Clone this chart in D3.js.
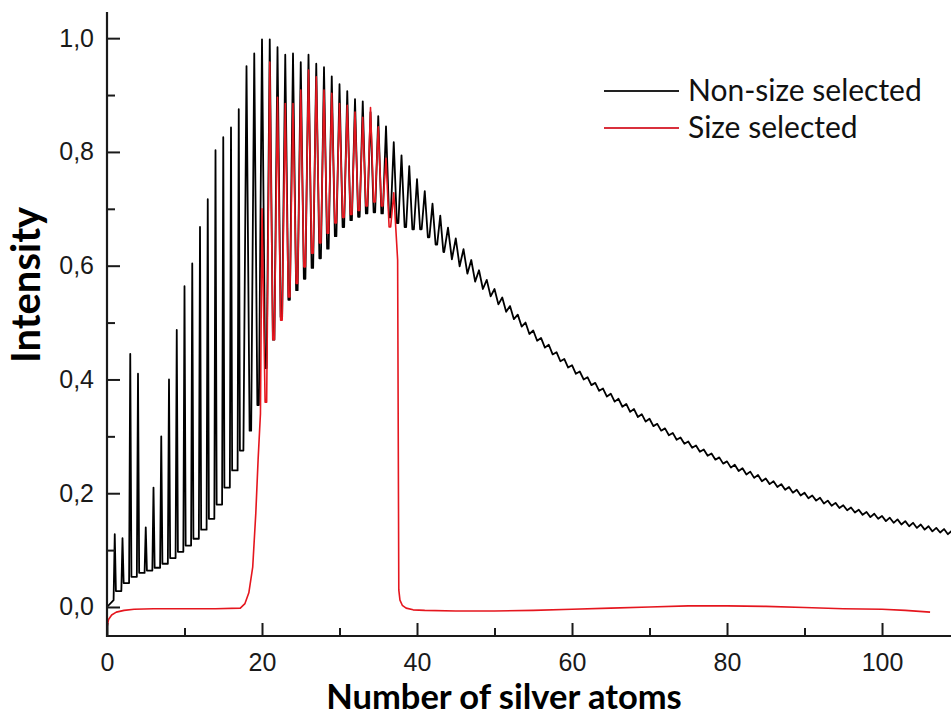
<!DOCTYPE html>
<html>
<head>
<meta charset="utf-8">
<script src="https://cdn.jsdelivr.net/npm/d3@7"></script>
<style>
  html, body { margin: 0; padding: 0; background: #fff; }
  svg { display: block; }
</style>
</head>
<body>
<svg id="chart" width="951" height="719"></svg>
<script>
// Mass spectra of silver clusters: intensity against number of atoms.

// Non-size selected beam: spike top at each atom count n = 1..109
const nonSizePeak = [
  0.128, 0.121, 0.445, 0.410, 0.140, 0.210, 0.300, 0.400, 0.487, 0.564,
  0.604, 0.668, 0.717, 0.803, 0.826, 0.843, 0.875, 0.951, 0.973, 0.998,
  0.998, 0.984, 0.971, 0.973, 0.958, 0.971, 0.955, 0.949, 0.933, 0.919,
  0.907, 0.893, 0.889, 0.870, 0.863, 0.845, 0.817, 0.794, 0.775, 0.752,
  0.731, 0.709, 0.688, 0.667, 0.648, 0.629, 0.610, 0.592, 0.575, 0.559,
  0.544, 0.529, 0.514, 0.500, 0.486, 0.473, 0.461, 0.448, 0.436, 0.425,
  0.414, 0.404, 0.394, 0.384, 0.375, 0.366, 0.357, 0.348, 0.339, 0.331,
  0.322, 0.314, 0.306, 0.298, 0.291, 0.284, 0.277, 0.270, 0.263, 0.256,
  0.250, 0.244, 0.238, 0.232, 0.226, 0.221, 0.216, 0.211, 0.206, 0.201,
  0.196, 0.192, 0.187, 0.183, 0.179, 0.175, 0.171, 0.167, 0.164, 0.160,
  0.157, 0.154, 0.151, 0.148, 0.145, 0.142, 0.139, 0.137, 0.134
];
// Non-size selected beam: trough level after each atom count n = 0..109
const nonSizeValley = [
  0.012, 0.028, 0.042, 0.053, 0.060, 0.064, 0.069, 0.076, 0.086, 0.097,
  0.108, 0.120, 0.136, 0.155, 0.180, 0.210, 0.240, 0.275, 0.310, 0.355,
  0.420, 0.470, 0.510, 0.540, 0.557, 0.577, 0.596, 0.613, 0.630, 0.652,
  0.668, 0.680, 0.686, 0.692, 0.694, 0.692, 0.685, 0.675, 0.668, 0.664,
  0.664, 0.650, 0.637, 0.624, 0.611, 0.599, 0.586, 0.572, 0.559, 0.546,
  0.532, 0.519, 0.506, 0.493, 0.480, 0.468, 0.456, 0.444, 0.432, 0.421,
  0.410, 0.400, 0.390, 0.380, 0.370, 0.361, 0.352, 0.343, 0.334, 0.326,
  0.318, 0.310, 0.302, 0.294, 0.287, 0.280, 0.273, 0.266, 0.259, 0.252,
  0.245, 0.239, 0.233, 0.227, 0.221, 0.216, 0.211, 0.206, 0.201, 0.196,
  0.191, 0.187, 0.182, 0.178, 0.174, 0.170, 0.166, 0.162, 0.158, 0.155,
  0.151, 0.148, 0.145, 0.142, 0.139, 0.136, 0.133, 0.131, 0.128, 0.126
];
const nonSizeAtoms = d3.range(1, nonSizePeak.length + 1);

// Size selected beam: flat signal before the selection window
const sizeLeadN = [0, 0.2, 0.6, 1.2, 2.2, 3.5, 6, 10, 14, 17.2, 17.8, 18.3, 18.8, 19.2, 19.5, 19.8];
const sizeLeadI = [-0.036, -0.022, -0.014, -0.009, -0.006, -0.004, -0.003, -0.003, -0.003, -0.002,
                   0.006, 0.025, 0.070, 0.165, 0.260, 0.340];
// Size selected beam: spikes inside the window (n = 20..37)
const sizeAtoms = [20, 21, 22, 23, 24, 25, 26, 27, 28, 29, 30, 31, 32, 33, 34, 35, 36, 37];
const sizePeak = [0.700, 0.958, 0.896, 0.885, 0.885, 0.909, 0.944, 0.932, 0.909,
                  0.903, 0.885, 0.882, 0.870, 0.861, 0.878, 0.844, 0.789, 0.728];
const sizeValley = [0.360, 0.470, 0.504, 0.545, 0.569, 0.598, 0.622, 0.640, 0.657,
                    0.675, 0.685, 0.690, 0.697, 0.705, 0.712, 0.705, 0.668];
// Size selected beam: cut-off and flat signal after the window
const sizeTailN = [37.5, 37.65, 37.8, 38.1, 38.6, 39.5, 41, 45, 50, 55, 60, 65, 70, 75, 80, 85, 90, 95, 100, 103, 106.2];
const sizeTailI = [0.610, 0.030, 0.012, 0.003, -0.002, -0.005, -0.006, -0.007, -0.007, -0.006, -0.004,
                   -0.002, 0.000, 0.002, 0.002, 0.001, -0.001, -0.003, -0.004, -0.006, -0.009];

const xTicks = [0, 20, 40, 60, 80, 100];
const xMinorTicks = [10, 30, 50, 70, 90];
const yTicks = [0, 0.2, 0.4, 0.6, 0.8, 1.0];
const yMinorTicks = [0.1, 0.3, 0.5, 0.7, 0.9];
const seriesNames = ["Non-size selected", "Size selected"];
const seriesColors = ["#000000", "#e5161e"];

// ---- layout ----
const svg = d3.select("#chart");
const plotLeft = 107, plotBottom = 636, plotTop = 12, plotRight = 951;
const x = d3.scaleLinear().domain([0, 108.9]).range([plotLeft, plotRight]);
const y = d3.scaleLinear().domain([-0.051, 1.046]).range([plotBottom, plotTop]);

const commaFmt = d3.formatLocale({ decimal: ",", thousands: ".", grouping: [3], currency: ["", ""] }).format(".1f");

svg.append("defs").append("clipPath").attr("id", "plotClip")
  .append("rect").attr("x", plotLeft).attr("y", 0)
  .attr("width", plotRight - plotLeft).attr("height", plotBottom);

// half-width of a mass peak (in atoms): narrow spikes for small clusters,
// broader peaks in the crowded middle, a continuous ripple for large ones
function halfWidth(n) { return n < 18 ? 0.15 : (n < 44 ? 0.4 : 0.5); }

// trace for the non-size selected beam
const blackPts = [[0, 0.0]];
nonSizeAtoms.forEach((n, i) => {
  const w = halfWidth(n);
  blackPts.push([n - w, nonSizeValley[i]], [n, nonSizePeak[i]], [n + w, nonSizeValley[i + 1]]);
});

// trace for the size selected beam
const redPts = sizeLeadN.map((n, i) => [n, sizeLeadI[i]]);
sizeAtoms.forEach((n, i) => {
  const w = halfWidth(n);
  if (i > 0) redPts.push([n - w, sizeValley[i - 1]]);
  redPts.push([n, sizePeak[i]]);
  if (i < sizeValley.length) redPts.push([n + w, sizeValley[i]]);
});
sizeTailN.forEach((n, i) => redPts.push([n, sizeTailI[i]]));

const line = d3.line().x(d => x(d[0])).y(d => y(d[1]));

const plot = svg.append("g").attr("clip-path", "url(#plotClip)");
plot.append("path").datum(blackPts).attr("d", line)
  .attr("fill", "none").attr("stroke", seriesColors[0]).attr("stroke-width", 1.8).attr("stroke-linejoin", "round");
plot.append("path").datum(redPts).attr("d", line)
  .attr("fill", "none").attr("stroke", seriesColors[1]).attr("stroke-width", 1.6).attr("stroke-linejoin", "round");

// ---- axes (ticks point inward) ----
const axisColor = "#1a1a1a";
const yAxis = svg.append("g").attr("transform", `translate(${plotLeft},0)`)
  .call(d3.axisLeft(y).tickValues(yTicks).tickSize(-13).tickPadding(13).tickFormat(commaFmt));
const yMinor = svg.append("g").attr("transform", `translate(${plotLeft},0)`)
  .call(d3.axisLeft(y).tickValues(yMinorTicks).tickSize(-8).tickFormat(""));
const xAxis = svg.append("g").attr("transform", `translate(0,${plotBottom})`)
  .call(d3.axisBottom(x).tickValues(xTicks).tickSize(-13).tickPadding(17).tickFormat(d3.format("d")));
const xMinor = svg.append("g").attr("transform", `translate(0,${plotBottom})`)
  .call(d3.axisBottom(x).tickValues(xMinorTicks).tickSize(-8).tickFormat(""));
[yAxis, yMinor, xAxis, xMinor].forEach(g => g.select(".domain").remove());

svg.append("line").attr("x1", plotLeft).attr("x2", plotLeft).attr("y1", plotTop).attr("y2", plotBottom + 1)
  .attr("stroke", axisColor).attr("stroke-width", 2.2);
svg.append("line").attr("x1", plotLeft - 1).attr("x2", plotRight).attr("y1", plotBottom).attr("y2", plotBottom)
  .attr("stroke", axisColor).attr("stroke-width", 2.2);
svg.selectAll(".tick line").attr("stroke", axisColor).attr("stroke-width", 2);
svg.selectAll(".tick text")
  .attr("font-family", "'Liberation Sans', Arial, sans-serif")
  .attr("font-size", 25).attr("fill", "#1a1a1a");

// axis titles
svg.append("text")
  .attr("transform", "translate(40,285) rotate(-90)")
  .attr("text-anchor", "middle")
  .attr("font-family", "Lato, 'Open Sans', sans-serif")
  .attr("font-weight", "bold").attr("font-size", 40).attr("fill", "#000")
  .text("Intensity");
svg.append("text")
  .attr("x", 504).attr("y", 709)
  .attr("text-anchor", "middle")
  .attr("font-family", "Lato, 'Open Sans', sans-serif")
  .attr("font-weight", "bold").attr("font-size", 34.5).attr("fill", "#000")
  .text("Number of silver atoms");

// legend
const legend = svg.append("g");
seriesNames.forEach((name, i) => {
  const ly = 91 + i * 37;
  legend.append("line").attr("x1", 604).attr("x2", 679).attr("y1", ly).attr("y2", ly)
    .attr("stroke", i === 0 ? "#222" : "#d9303c").attr("stroke-width", 2);
  legend.append("text").attr("x", 688).attr("y", ly + 10)
    .attr("font-family", "Lato, 'Open Sans', sans-serif")
    .attr("font-size", 30).attr("fill", "#111")
    .text(name);
});
</script>
</body>
</html>
